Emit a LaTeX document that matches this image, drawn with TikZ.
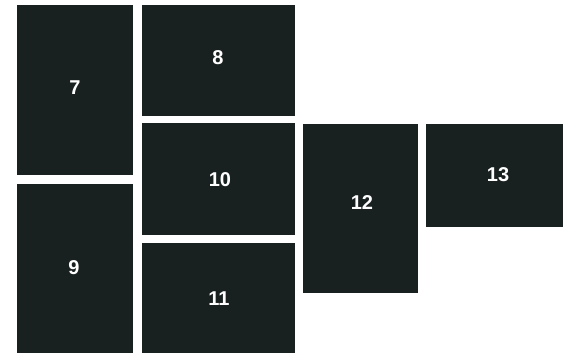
\documentclass[tikz,border=0pt]{standalone}
\usepackage{fontspec}
\setmainfont{Liberation Sans}
\definecolor{panel}{RGB}{25,33,32}
\tikzset{
  panelbox/.style={fill=panel, draw=none, inner sep=0pt, outer sep=0pt, anchor=north west},
  numlabel/.style={text=white, font=\fontsize{20}{20}\selectfont\bfseries, inner sep=0pt}
}
\begin{document}
\begin{tikzpicture}[x=1pt,y=-1pt]
\useasboundingbox (0,0) rectangle (563,356);
% panels
\node[panelbox, minimum width=116pt, minimum height=170pt] (p7) at (17,5) {};
\node[panelbox, minimum width=116pt, minimum height=169pt] (p9) at (17,184) {};
\node[panelbox, minimum width=153pt, minimum height=111pt] (p8) at (142,5) {};
\node[panelbox, minimum width=153pt, minimum height=112pt] (p10) at (142,123) {};
\node[panelbox, minimum width=153pt, minimum height=110pt] (p11) at (142,243) {};
\node[panelbox, minimum width=115pt, minimum height=169pt] (p12) at (303,124) {};
\node[panelbox, minimum width=137pt, minimum height=103pt] (p13) at (426,124) {};
% labels
\node[numlabel] (l7) at (75,88) {7};
\node[numlabel] (l8) at (218,58) {8};
\node[numlabel] (l10) at (220,180) {10};
\node[numlabel] (l9) at (74,268) {9};
\node[numlabel] (l11) at (219,299) {11};
\node[numlabel] (l12) at (362,203) {12};
\node[numlabel] (l13) at (498,175) {13};
\end{tikzpicture}
\end{document}
